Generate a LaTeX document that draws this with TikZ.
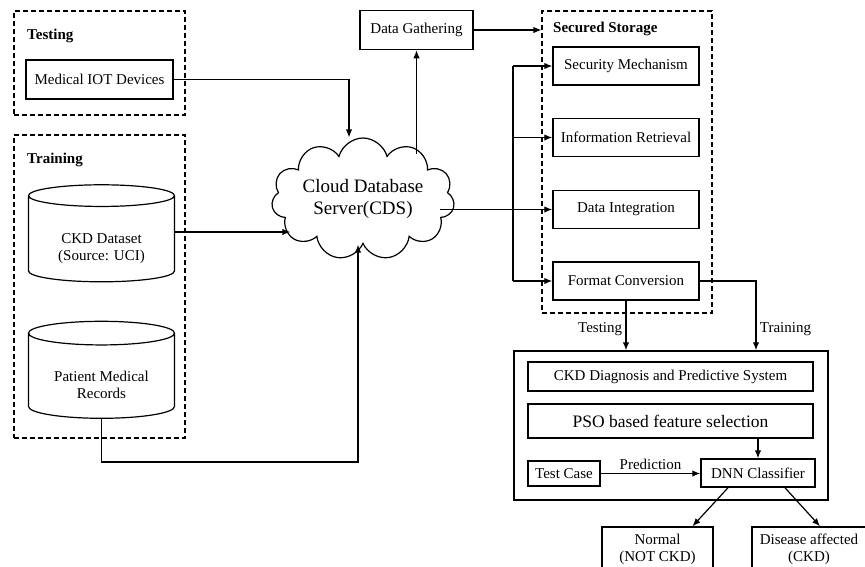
\documentclass[tikz,border=0pt]{standalone}
\usepackage{fontspec}
\setmainfont{Liberation Serif}
\usetikzlibrary{shapes.geometric,shapes.symbols,arrows.meta}

\begin{document}
\begin{tikzpicture}[x=1pt,y=-1pt,
  every node/.style={font=\rmfamily\fontsize{15}{17}\selectfont},
  box/.style={draw,line width=1.5pt,inner sep=0pt},
  grp/.style={draw,line width=1.2pt,inner sep=0pt,dash pattern=on 5pt off 3pt},
  lbl/.style={font=\rmfamily\fontsize{15}{17}\selectfont\bfseries,anchor=west,inner sep=0pt},
  db/.style={draw,line width=1.2pt,cylinder,shape border rotate=90,aspect=0.25,
    minimum width=146pt,minimum height=97pt,inner sep=0pt,align=center},
  line/.style={line width=1.2pt},
  arr/.style={line width=1.2pt,-{Latex[length=8pt,width=6.5pt]}}]
  \useasboundingbox (0,0) rectangle (865,566);

  % dashed groups
  \node[grp,minimum width=171pt,minimum height=104pt] (testgrp) at (99.5,63) {};
  \node[grp,minimum width=171pt,minimum height=303pt] (traingrp) at (99.5,286.5) {};
  \node[grp,minimum width=170pt,minimum height=302pt] (ssgrp) at (627,162) {};
  \node[lbl] (testlbl) at (27,36) {Testing};
  \node[lbl] (trainlbl) at (27,160) {Training};
  \node[lbl] (sslbl) at (553,29) {Secured Storage};

  % sources
  \node[box,minimum width=147pt,minimum height=39pt] (iot) at (99.5,79.5) {Medical IOT Devices};
  \node[db] (ckd) at (101.5,239) {\rule{0pt}{29pt}CKD Dataset\\(Source: UCI)};
  \node[db] (pmr) at (101.5,376) {\rule{0pt}{29pt}Patient Medical\\Records};

  % cloud
  \node[cloud,draw,line width=1.2pt,cloud puffs=11,cloud ignores aspect,
    minimum width=183pt,minimum height=122pt,inner sep=0pt,align=center,
    font=\rmfamily\fontsize{19}{22}\selectfont] (cds) at (363,199) {Cloud Database\\Server(CDS)};

  % storage
  \node[box,minimum width=113pt,minimum height=39pt] (dg) at (416.5,30) {Data Gathering};
  \node[box,minimum width=146pt,minimum height=38pt] (sm) at (626,66) {Security Mechanism};
  \node[box,minimum width=146pt,minimum height=38pt] (ir) at (626,137.5) {Information Retrieval};
  \node[box,minimum width=146pt,minimum height=38pt] (di) at (626,209.5) {Data Integration};
  \node[box,minimum width=146pt,minimum height=38pt] (fc) at (626,281) {Format Conversion};

  % diagnosis system
  \node[box,minimum width=314pt,minimum height=149pt] (dps) at (671,425.5) {};
  \node[box,minimum width=285pt,minimum height=29pt] (diag) at (670.5,376.5) {CKD Diagnosis and Predictive System};
  \node[box,minimum width=285pt,minimum height=34pt,font=\rmfamily\fontsize{17.5}{20}\selectfont] (pso) at (670.5,421) {PSO based feature selection};
  \node[box,minimum width=72pt,minimum height=25pt] (tc) at (564,473.5) {Test Case};
  \node[box,minimum width=114pt,minimum height=28pt] (dnn) at (758,473) {DNN Classifier};
  \node[box,minimum width=111pt,minimum height=44pt,align=center] (norm) at (657.5,549) {Normal\\(NOT CKD)};
  \node[box,minimum width=114pt,minimum height=44pt,align=center] (dis) at (809,549) {Disease affected\\(CKD)};

  % connectors
  \coordinate (ckdout) at ([yshift=7pt]ckd.east);
  \draw[arr] (iot.east) -| ([xshift=-14pt]cds.north);
  \draw[arr] (ckdout) -- ([xshift=18pt]cds.west |- ckdout);
  \draw[arr] (pmr.south) -- ++(0,43) -| ([xshift=-5pt]cds.south);
  \draw[arr] (dg.south |- cds.62) -- (dg.south);
  \draw[arr] (dg.east) -- (dg.east -| ssgrp.west);
  \draw[arr] ([xshift=-14pt]cds.east |- di.west) -- (di.west);
  \coordinate (bus) at (513,0);
  \draw[line] (sm.west -| bus) -- (fc.west -| bus);
  \foreach \n in {sm,ir,fc}
    \draw[arr] (\n.west -| bus) -- (\n.west);
  \draw[arr] (fc.south) -- (fc.south |- dps.north) node[pos=0.58,left] {Testing};
  \draw[arr] (fc.east) -| ([xshift=85pt]dps.north) node[pos=0.85,right] {Training};
  \draw[arr] (pso.south -| dnn.north) -- (dnn.north);
  \draw[arr] (tc.east) -- (tc.east -| dnn.west) node[midway,above] {Prediction};
  \draw[arr] ([xshift=-30pt]dnn.south) -- ([xshift=35pt]norm.north);
  \draw[arr] ([xshift=27pt]dnn.south) -- ([xshift=11pt]dis.north);
\end{tikzpicture}
\end{document}
